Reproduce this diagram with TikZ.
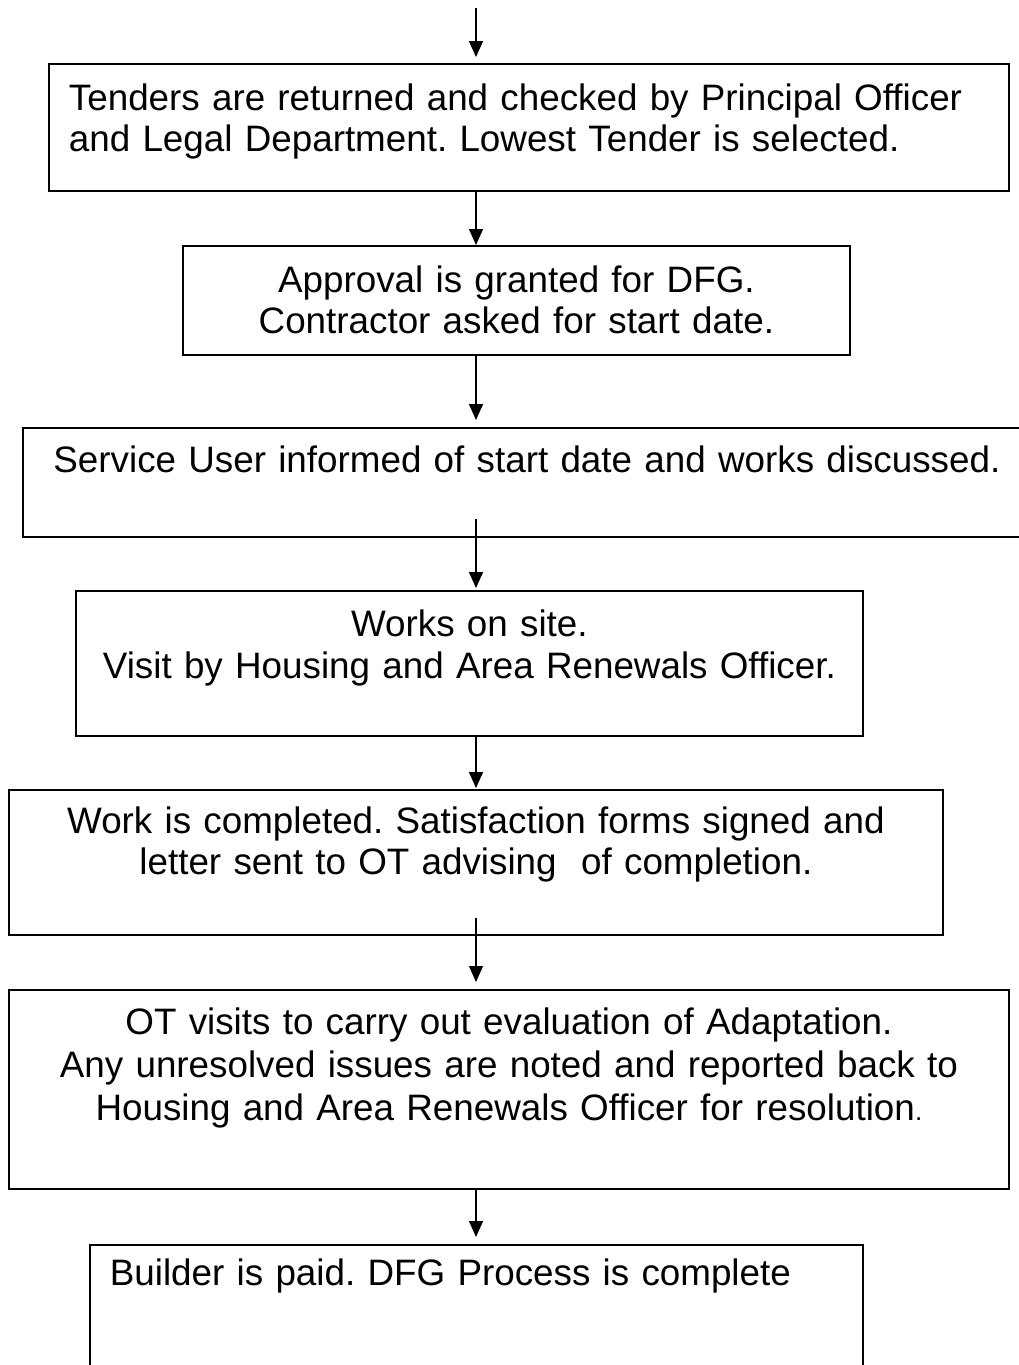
\documentclass[tikz,border=0pt]{standalone}
\usepackage{fontspec}
\setmainfont{Liberation Sans}
\usepackage{tikz}
\usetikzlibrary{arrows.meta,positioning,calc}
\frenchspacing

\begin{document}
\begin{tikzpicture}[x=1pt, y=-1pt,
      stage/.style={draw, line width=1.8pt, anchor=north west, inner xsep=0pt,
                    inner ysep=0pt, align=center,
                    font=\fontsize{36.8}{41}\selectfont},
      >={Triangle[length=16pt,width=14pt]},
      flow/.style={->, line width=1.4pt}]
    \path[use as bounding box] (0,0) rectangle (1019,1365);
    \clip (0,0) rectangle (1019,1365);
    \coordinate (spine) at (476,0);
    \coordinate (entry) at (476,8);
    \node[stage, align=left, inner xsep=20pt, text width=920pt,
          text height=47pt, text depth=80pt] (tenders) at (48,63)
      {Tenders are returned and checked by Principal Officer\\and Legal Department. Lowest Tender is selected.};
    \node[stage, text width=667pt, text height=47pt, text depth=62pt] (approval) at (182,245)
      {Approval is granted for DFG.\\Contractor asked for start date.};
    % right edge runs off the page
    \node[stage, text width=1008pt, text height=45pt, text depth=64pt] (informed) at (22,427)
      {Service User informed of start date and works discussed.};
    \node[stage, text width=787pt, text height=46pt, text depth=99pt,
          font=\fontsize{36.8}{42}\selectfont] (works) at (75,590)
      {Works on site.\\Visit by Housing and Area Renewals Officer.};
    \node[stage, text width=934pt, text height=44pt, text depth=101pt] (completed) at (8,789)
      {Work is completed. Satisfaction forms signed and\\letter sent to OT advising\ \ of completion.};
    \node[stage, text width=1000pt, text height=45pt, text depth=154pt,
          font=\fontsize{36.8}{43}\selectfont] (evaluation) at (8,989)
      {OT visits to carry out evaluation of Adaptation.\\Any unresolved issues are noted and reported back to\\Housing and Area Renewals Officer for resolution{\fontsize{26}{43}\selectfont.}};
    % bottom edge runs off the page
    \node[stage, align=left, inner xsep=20pt, text width=733pt,
          text height=41pt, text depth=115pt] (paid) at (89,1244)
      {Builder is paid. DFG Process is complete};
    % arrows all sit on one vertical line
    \draw[flow, shorten >=6pt] (entry) -- (tenders.north -| spine);
    \draw[flow] (tenders.south -| spine) -- (approval.north -| spine);
    \draw[flow, shorten >=7pt] (approval.south -| spine) -- (informed.north -| spine);
    \draw[flow, shorten >=2pt] ([yshift=19pt]informed.south -| spine) -- (works.north -| spine);
    \draw[flow, shorten >=1pt] (works.south -| spine) -- (completed.north -| spine);
    \draw[flow, shorten >=7pt] ([yshift=18pt]completed.south -| spine) -- (evaluation.north -| spine);
    \draw[flow, shorten >=7pt] (evaluation.south -| spine) -- (paid.north -| spine);
\end{tikzpicture}
\end{document}
